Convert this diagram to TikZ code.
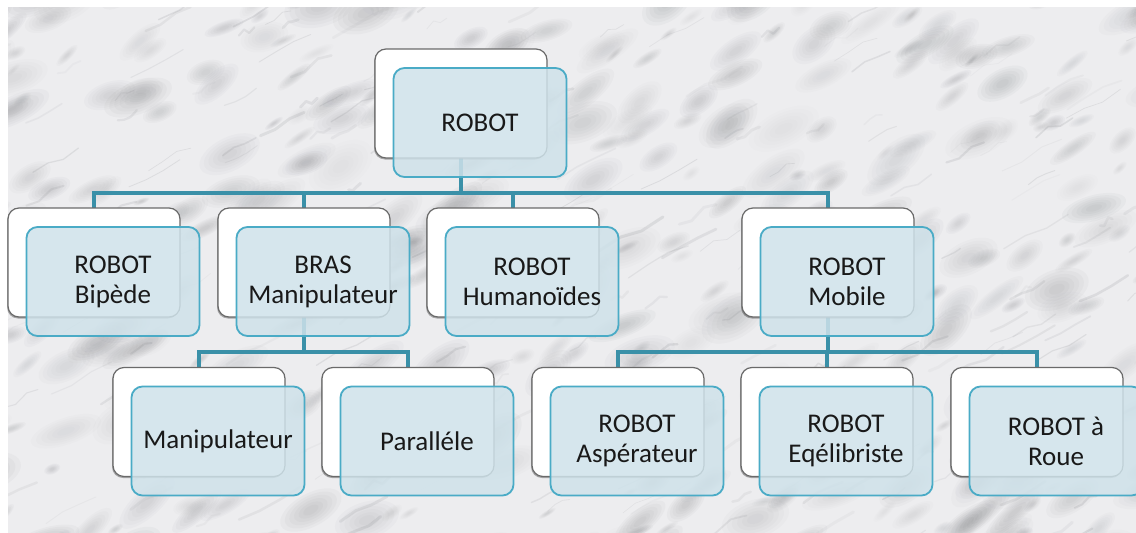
\documentclass[tikz,border=0pt]{standalone}
\usepackage{fontspec}
\setmainfont{Carlito}
\usetikzlibrary{shadows}

\definecolor{marblebase}{HTML}{EDEDEF}
\definecolor{vein}{HTML}{77797E}
\definecolor{linkcol}{HTML}{3A90A8}
\definecolor{cardfill}{HTML}{CFE2EA}
\definecolor{cardedge}{HTML}{4AABC6}
\definecolor{backedge}{HTML}{6A6A6A}

\tikzset{
  backcard/.style={draw=backedge, line width=1.2pt, fill=white, rounded corners=11pt,
    minimum width=172pt, minimum height=109pt, inner sep=0pt,
    drop shadow={shadow xshift=-1pt, shadow yshift=-1.5pt, opacity=0.3, fill=black}},
  frontcard/.style={draw=cardedge, line width=1.8pt, fill=cardfill, fill opacity=0.85,
    text opacity=1, rounded corners=11pt, minimum width=173pt, minimum height=109pt,
    inner sep=2pt, align=center, text=black!90,
    font=\fontsize{27}{30}\selectfont},
  link/.style={draw=linkcol, line width=4.2pt},
}

% one entry of the chart: a white card with a translucent card on top of it
\newcommand{\chartcard}[4]{%
  \node[backcard] (#1-w) at (#2,#3) {};
  \node[frontcard] (#1) at (#2+19,#3+19) {#4};
}

\begin{document}
\begin{tikzpicture}[x=1pt, y=-1pt]
\useasboundingbox (0,0) rectangle (1136,533);

% marble backdrop
\begin{scope}
  \clip (8,7) rectangle (1136,533);
  \fill[marblebase] (8,7) rectangle (1136,533);
  \pgfmathsetseed{5}
  % soft grey clouding, each cloud built from nested translucent ellipses
  \foreach \i in {1,...,420}{
    \pgfmathsetmacro\mx{rnd*1200-30}
    \pgfmathsetmacro\my{rnd*580-20}
    \pgfmathsetmacro\ma{8+rnd*30}
    \pgfmathsetmacro\mr{0.25+rnd*0.35}
    \pgfmathsetmacro\mt{15+rnd*30}
    \pgfmathsetmacro\mo{0.015+rnd*0.035}
    \foreach \k in {1.0,0.85,0.7,0.55,0.4,0.25}{
      \fill[vein, opacity=\mo] (\mx,\my) ellipse [x radius=\ma*\k, y radius=\ma*\k*\mr, rotate=\mt];
    }
  }
  % fine veins running up to the right
  \foreach \i in {1,...,220}{
    \pgfmathsetmacro\mx{rnd*1200-40}
    \pgfmathsetmacro\my{rnd*580}
    \pgfmathsetmacro\ml{8+rnd*35}
    \pgfmathsetmacro\ja{rnd*8-4}
    \pgfmathsetmacro\jb{rnd*8-4}
    \pgfmathsetmacro\mw{0.5+rnd*2.5}
    \pgfmathsetmacro\mo{0.04+rnd*0.12}
    \draw[vein, line width=\mw pt, opacity=\mo, line cap=round, line join=round]
      (\mx,\my) -- +(\ml*0.5,-\ml*0.3+\ja) -- +(\ml,-\ml*0.55+\jb) -- +(\ml*1.5,-\ml*0.8);
  }
\end{scope}

% connectors, behind every card
\coordinate (t) at (461,158);
\coordinate (b) at (304,317);
\coordinate (m) at (828,317);
\coordinate (c1) at (94,208);
\coordinate (c2) at (304,208);
\coordinate (c3) at (513,208);
\coordinate (c4) at (828,208);
\coordinate (d1) at (199,367);
\coordinate (d2) at (408,367);
\coordinate (d3) at (618,367);
\coordinate (d4) at (827,367);
\coordinate (d5) at (1037,367);
\foreach \c in {c1,c2,c3,c4}{ \draw[link] (t) -- ++(0,35) -| (\c); }
\foreach \c in {d1,d2}{ \draw[link] (b) -- ++(0,35) -| (\c); }
\foreach \c in {d3,d4,d5}{ \draw[link] (m) -- ++(0,35) -| (\c); }

% cards
\chartcard{robot}{461}{103.5}{ROBOT}
\chartcard{bipede}{94}{262.5}{ROBOT\\Bipède}
\chartcard{bras}{304}{262.5}{BRAS\\Manipulateur}
\chartcard{humanoide}{513}{262.5}{ROBOT\\Humanoïdes}
\chartcard{mobile}{828}{262.5}{ROBOT\\Mobile}
\chartcard{manip}{199}{422}{Manipulateur}
\chartcard{para}{408}{422}{Paralléle}
\chartcard{asper}{618}{422}{ROBOT\\Aspérateur}
\chartcard{equil}{827}{422}{ROBOT\\Eqélibriste}
\chartcard{roue}{1037}{422}{ROBOT à\\Roue}
\end{tikzpicture}
\end{document}
